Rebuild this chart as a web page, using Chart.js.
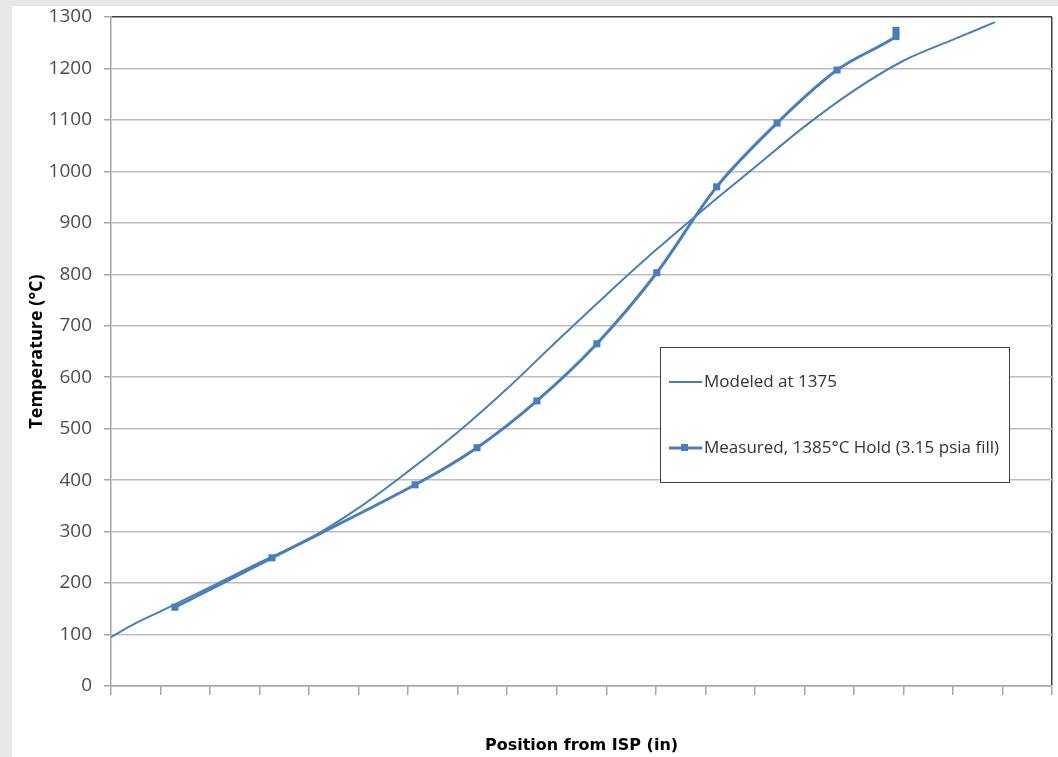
<!DOCTYPE html>
<html lang="en">
<head>
    <meta charset="UTF-8">
    <title>Temperature vs Position from ISP</title>
    <script src="https://cdn.jsdelivr.net/npm/chart.js"></script>
    <style>
        body {
            margin: 0;
            padding: 0;
            background-color: #e8e8e8;
            width: 1058px;
            height: 757px;
            overflow: hidden;
        }
        #wrap {
            position: absolute;
            left: 12px;
            top: 6px;
            width: 1046px;
            height: 751px;
            background: #ffffff;
        }
    </style>
</head>
<body>
    <div id="wrap"><canvas id="myChart"></canvas></div>

    <script>
        // Modeled curve (position in, temperature °C)
        const modeledX = [0, 0.5, 1, 2, 3, 4, 5, 6, 7, 8, 9, 10, 11, 12, 13, 14, 15, 16, 17, 17.85];
        const modeledY = [95, 122, 145, 192, 240, 286, 346, 417, 493, 578, 670, 760, 847, 929, 1008, 1087, 1157, 1215, 1256, 1290];

        // Measured points
        const measuredX = [1.29, 3.25, 6.14, 7.39, 8.6, 9.81, 11.02, 12.23, 13.45, 14.66, 15.85, 15.85];
        const measuredY = [153, 249, 391, 463, 554, 665, 803, 970, 1094, 1197, 1262, 1274];

        const seriesNames = ['Modeled at 1375', 'Measured, 1385°C Hold (3.15 psia fill)'];
        const lineColor = '#4A7EBB';

        const toXY = (xs, ys) => xs.map((x, i) => ({ x: x, y: ys[i] }));

        // legend box drawn inside the plot area
        const boxLegend = {
            id: 'boxLegend',
            afterDraw(chart) {
                const ctx = chart.ctx;
                const x = 648, y = 341, w = 349, h = 135;
                ctx.save();
                ctx.fillStyle = '#ffffff';
                ctx.fillRect(x, y, w, h);
                ctx.strokeStyle = '#404040';
                ctx.lineWidth = 1;
                ctx.strokeRect(x + 0.5, y + 0.5, w, h);

                ctx.font = '17px "Open Sans"';
                ctx.fillStyle = '#333333';
                ctx.textBaseline = 'middle';

                // modeled
                ctx.strokeStyle = lineColor;
                ctx.lineWidth = 2;
                ctx.beginPath();
                ctx.moveTo(x + 9, y + 35);
                ctx.lineTo(x + 42, y + 35);
                ctx.stroke();
                ctx.fillText(seriesNames[0], x + 44, y + 35);

                // measured
                ctx.lineWidth = 3;
                ctx.beginPath();
                ctx.moveTo(x + 9, y + 101);
                ctx.lineTo(x + 42, y + 101);
                ctx.stroke();
                ctx.fillStyle = lineColor;
                ctx.fillRect(x + 21, y + 97, 7, 7);
                ctx.fillStyle = '#333333';
                ctx.fillText(seriesNames[1], x + 44, y + 101);
                ctx.restore();
            }
        };

        const ctx = document.getElementById('myChart').getContext('2d');
        new Chart(ctx, {
            type: 'line',
            data: {
                datasets: [
                    {
                        label: seriesNames[1],
                        data: toXY(measuredX, measuredY),
                        borderColor: lineColor,
                        backgroundColor: lineColor,
                        borderWidth: 3,
                        pointStyle: 'rect',
                        pointRadius: 5,
                        pointBorderWidth: 0,
                        tension: 0.35,
                        fill: false
                    },
                    {
                        label: seriesNames[0],
                        data: toXY(modeledX, modeledY),
                        borderColor: lineColor,
                        backgroundColor: lineColor,
                        borderWidth: 2,
                        pointRadius: 0,
                        cubicInterpolationMode: 'monotone',
                        fill: false
                    }
                ]
            },
            options: {
                responsive: true,
                maintainAspectRatio: false,
                animation: false,
                layout: { padding: { top: 11, right: 6, left: 0, bottom: 0 } },
                plugins: {
                    legend: { display: false },
                    tooltip: { enabled: false }
                },
                scales: {
                    x: {
                        type: 'linear',
                        min: 0,
                        max: 19,
                        ticks: { stepSize: 1, display: false },
                        grid: {
                            drawOnChartArea: true,
                            color: c => (c.tick && c.tick.value === 19) ? '#404040' : 'rgba(0,0,0,0)',
                            tickColor: '#a6a6a6',
                            tickLength: 9,
                            lineWidth: 1.5
                        },
                        border: { color: '#a6a6a6', width: 1.5 },
                        title: {
                            display: true,
                            text: 'Position from ISP (in)',
                            font: { family: 'DejaVu Sans', size: 16, weight: 'bold' },
                            color: '#000000',
                            padding: { top: 0, bottom: 2 }
                        },
                        afterFit: s => { s.height = 71; s.paddingLeft = 0; s.paddingRight = 0; }
                    },
                    y: {
                        min: 0,
                        max: 1300,
                        ticks: {
                            stepSize: 100,
                            color: '#4d4d4d',
                            font: { family: 'Open Sans', size: 19 },
                            padding: 12,
                            callback: v => String(v)
                        },
                        grid: {
                            color: c => (c.tick && c.tick.value === 1300) ? '#404040' : '#bdbdbd',
                            tickColor: '#a6a6a6',
                            tickLength: 7,
                            lineWidth: 1.5
                        },
                        border: { color: '#a6a6a6', width: 1.5 },
                        title: {
                            display: true,
                            text: 'Temperature (°C)',
                            font: { family: 'Open Sans', size: 18, weight: 'bold' },
                            color: '#000000',
                            padding: { top: 14, bottom: 0 }
                        },
                        afterFit: s => { s.width = 99; s.paddingTop = 0; s.paddingBottom = 0; }
                    }
                }
            },
            plugins: [boxLegend]
        });
    </script>
</body>
</html>
